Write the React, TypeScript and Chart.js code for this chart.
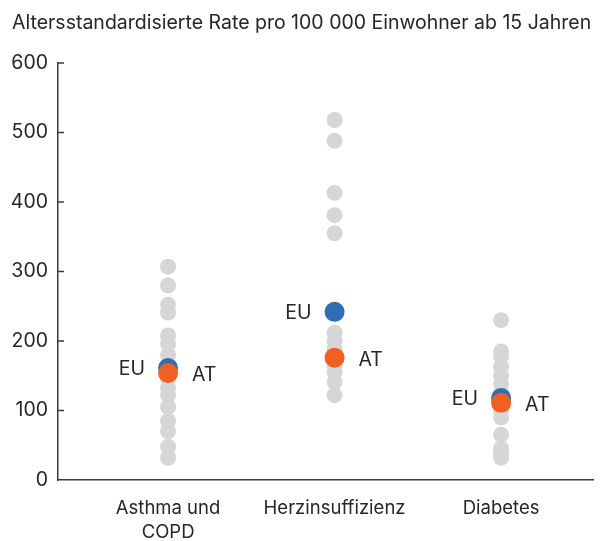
import React, { useEffect, useRef } from "react";
import { Chart, registerables } from "chart.js";

Chart.register(...registerables);

const categories: (string | string[])[] = [["Asthma und", "COPD"], "Herzinsuffizienz", "Diabetes"];
const asthmaValues = [307, 280, 252, 241, 208, 196, 180, 165, 145, 132, 122, 105, 85, 70, 48, 32];
const herzValues = [518, 488, 413, 381, 355, 212, 200, 188, 176, 165, 155, 141, 122];
const diabetesValues = [230, 185, 178, 163, 150, 138, 125, 100, 90, 65, 45, 38, 32];
const euValues = [161, 242, 118];
const atValues = [154, 176, 111];
const yTicks = [0, 100, 200, 300, 400, 500, 600];
const titleText = "Altersstandardisierte Rate pro 100 000 Einwohner ab 15 Jahren";

const FONT = "Inter, Roboto, 'Noto Sans', sans-serif";
const TEXT = "#262626";
const AXIS = "#3a3a3a";

const titleDraw = {
  id: "titleDraw",
  afterDraw(chart: any) {
    const { ctx } = chart;
    ctx.save();
    ctx.font = `19.5px ${FONT}`;
    ctx.fillStyle = TEXT;
    ctx.textAlign = "left";
    ctx.textBaseline = "middle";
    ctx.fillText(titleText, 12, 23);
    ctx.restore();
  },
};

const inwardTicks = {
  id: "inwardTicks",
  afterDatasetsDraw(chart: any) {
    const { ctx } = chart;
    const y = chart.scales.y;
    const left = chart.chartArea.left;
    ctx.save();
    ctx.strokeStyle = AXIS;
    ctx.lineWidth = 1.5;
    yTicks.forEach((v) => {
      if (v === 0) return;
      const py = y.getPixelForValue(v);
      ctx.beginPath();
      ctx.moveTo(left, py);
      ctx.lineTo(left + 6, py);
      ctx.stroke();
    });
    ctx.restore();
  },
};

const pointLabels = {
  id: "pointLabels",
  afterDatasetsDraw(chart: any) {
    const { ctx } = chart;
    ctx.save();
    ctx.font = `19.5px ${FONT}`;
    ctx.fillStyle = TEXT;
    ctx.textBaseline = "middle";
    chart.data.datasets.forEach((ds: any, i: number) => {
      if (!ds.pointTag) return;
      const meta = chart.getDatasetMeta(i);
      meta.data.forEach((el: any) => {
        if (ds.pointTag === "EU") {
          ctx.textAlign = "right";
          ctx.fillText("EU", el.x - 23, el.y + 1);
        } else {
          ctx.textAlign = "left";
          ctx.fillText("AT", el.x + 24, el.y + 2);
        }
      });
    });
    ctx.restore();
  },
};

export default function App() {
  const ref = useRef<HTMLCanvasElement | null>(null);
  useEffect(() => {
    if (!ref.current) return;
    const grey = [
      ...asthmaValues.map((v) => ({ x: 1, y: v })),
      ...herzValues.map((v) => ({ x: 2, y: v })),
      ...diabetesValues.map((v) => ({ x: 3, y: v })),
    ];
    const chart = new Chart(ref.current, {
      type: "scatter",
      data: {
        datasets: [
          {
            label: "Länder",
            data: grey,
            pointRadius: 8,
            pointBackgroundColor: "#d6d6d6",
            pointBorderWidth: 0,
            order: 3,
          } as any,
          {
            label: "EU",
            pointTag: "EU",
            data: euValues.map((v, i) => ({ x: i + 1, y: v })),
            pointRadius: 10,
            pointBackgroundColor: "#2f6db5",
            pointBorderWidth: 0,
            order: 2,
          } as any,
          {
            label: "AT",
            pointTag: "AT",
            data: atValues.map((v, i) => ({ x: i + 1, y: v })),
            pointRadius: 10,
            pointBackgroundColor: "#ef6122",
            pointBorderWidth: 0,
            order: 1,
          } as any,
        ],
      },
      options: {
        animation: false,
        responsive: true,
        maintainAspectRatio: false,
        layout: { padding: { left: 0, right: 0, top: 63, bottom: 0 } },
        plugins: {
          legend: { display: false },
          tooltip: { enabled: false },
          title: { display: false },
        },
        scales: {
          x: {
            type: "linear",
            min: 0.339,
            max: 3.552,
            grid: { display: false, drawTicks: false },
            border: { display: true, color: AXIS, width: 1.5 },
            afterBuildTicks: (scale: any) => {
              scale.ticks = [{ value: 1 }, { value: 2 }, { value: 3 }];
            },
            afterFit: (scale: any) => {
              scale.height = 61;
            },
            ticks: {
              autoSkip: false,
              maxRotation: 0,
              padding: 16,
              color: TEXT,
              font: { family: FONT, size: 18.5, lineHeight: 1.3 },
              callback: (v: any) => categories[Number(v) - 1] as any,
            },
          },
          y: {
            min: 0,
            max: 600,
            grid: { display: false, drawTicks: false },
            border: { display: true, color: AXIS, width: 1.5 },
            afterBuildTicks: (scale: any) => {
              scale.ticks = yTicks.map((v) => ({ value: v }));
            },
            afterFit: (scale: any) => {
              scale.width = 58;
            },
            ticks: {
              padding: 10,
              color: TEXT,
              font: { family: FONT, size: 19.5 },
            },
          },
        },
      } as any,
      plugins: [inwardTicks, pointLabels, titleDraw],
    });
    return () => chart.destroy();
  }, []);
  return (
    <div style={{ position: "absolute", left: 0, top: 0, width: 603, height: 541 }}>
      <canvas ref={ref} />
    </div>
  );
}
